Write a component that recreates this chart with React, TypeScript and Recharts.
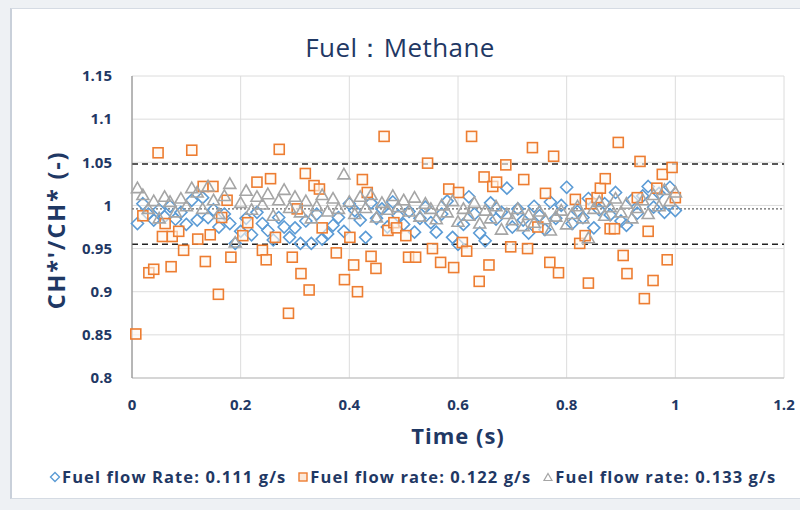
import React from "react";
import {
  ScatterChart,
  Scatter,
  XAxis,
  YAxis,
  CartesianGrid,
  ReferenceLine,
  Legend,
} from "recharts";

const TITLE = "Fuel：Methane";
const X_LABEL = "Time (s)";
const Y_LABEL = "CH*'/CH* (-)";
const X_TICKS = [0, 0.2, 0.4, 0.6, 0.8, 1, 1.2];
const Y_TICKS = [0.8, 0.85, 0.9, 0.95, 1, 1.05, 1.1, 1.15];
const SERIES_NAMES = [
  "Fuel flow Rate: 0.111 g/s",
  "Fuel flow rate: 0.122 g/s",
  "Fuel flow rate: 0.133 g/s",
];
const DASHED_LIMITS = [1.048, 0.955];
const MEAN_LINE = 0.996;

const timeBlue = [
  0.01, 0.02, 0.03, 0.04, 0.05, 0.06, 0.07, 0.08, 0.09, 0.1, 0.11, 0.12, 0.13, 0.14, 0.15, 0.16, 0.17, 0.18, 0.19, 0.2,
  0.21, 0.22, 0.23, 0.24, 0.25, 0.26, 0.27, 0.28, 0.29, 0.3, 0.31, 0.32, 0.33, 0.34, 0.35, 0.36, 0.37, 0.38, 0.39, 0.4,
  0.41, 0.42, 0.43, 0.44, 0.45, 0.46, 0.47, 0.48, 0.49, 0.5, 0.51, 0.52, 0.53, 0.54, 0.55, 0.56, 0.57, 0.58, 0.59, 0.6,
  0.61, 0.62, 0.63, 0.64, 0.65, 0.66, 0.67, 0.68, 0.69, 0.7, 0.71, 0.72, 0.73, 0.74, 0.75, 0.76, 0.77, 0.78, 0.79, 0.8,
  0.81, 0.82, 0.83, 0.84, 0.85, 0.86, 0.87, 0.88, 0.89, 0.9, 0.91, 0.92, 0.93, 0.94, 0.95, 0.96, 0.97, 0.98, 0.99, 1.0,
];
const ratioBlue = [
  0.979, 1.002, 0.99, 0.983, 0.995, 0.987, 0.999, 0.984, 0.992, 0.978, 1.006, 0.983, 1.009, 0.986, 0.995, 0.975, 0.99, 0.979, 0.956, 0.97,
  0.985, 0.966, 0.992, 0.979, 0.971, 0.96, 0.986, 0.975, 0.963, 0.974, 0.956, 0.982, 0.956, 0.99, 0.961, 0.967, 0.977, 0.986, 0.97, 1.002,
  0.994, 0.983, 0.963, 1.003, 0.985, 0.996, 0.975, 1.004, 0.988, 0.978, 0.993, 0.969, 0.985, 0.998, 0.98, 0.969, 0.99, 1.005, 0.963, 0.955,
  0.978, 1.01, 0.99, 0.968, 0.959, 1.003, 0.984, 0.992, 1.02, 0.975, 0.996, 0.983, 0.968, 0.999, 0.988, 0.972, 1.004, 0.985, 1.0, 1.021,
  0.979, 0.993, 0.986, 1.008, 0.974, 0.995, 1.002, 0.989, 1.015, 0.982, 0.977, 1.006, 0.991, 1.011, 1.022, 0.998, 1.014, 0.992, 1.021, 0.994,
];

const timeOrange = [
  0.007, 0.02, 0.031, 0.04, 0.048, 0.056, 0.061, 0.072, 0.074, 0.086, 0.095, 0.11, 0.121, 0.131, 0.135, 0.144, 0.149, 0.159, 0.165, 0.175,
  0.182, 0.204, 0.213, 0.23, 0.24, 0.247, 0.255, 0.264, 0.271, 0.288, 0.295, 0.304, 0.311, 0.319, 0.326, 0.335, 0.345, 0.35, 0.376, 0.391,
  0.401, 0.408, 0.415, 0.424, 0.433, 0.44, 0.449, 0.464, 0.471, 0.482, 0.487, 0.504, 0.509, 0.522, 0.544, 0.553, 0.568, 0.583, 0.592, 0.601,
  0.608, 0.616, 0.625, 0.639, 0.648, 0.657, 0.664, 0.671, 0.688, 0.697, 0.721, 0.728, 0.737, 0.747, 0.761, 0.769, 0.776, 0.785, 0.816, 0.824,
  0.834, 0.84, 0.845, 0.856, 0.862, 0.871, 0.88, 0.888, 0.895, 0.904, 0.911, 0.93, 0.935, 0.943, 0.95, 0.959, 0.966, 0.976, 0.985, 0.994, 1.0,
];
const ratioOrange = [
  0.851, 0.988, 0.922, 0.926, 1.061, 0.964, 0.979, 0.929, 0.964, 0.97, 0.948, 1.064, 0.961, 1.022, 0.935, 0.966, 1.022, 0.897, 0.986, 1.006,
  0.94, 0.965, 0.98, 1.027, 0.948, 0.937, 1.031, 0.963, 1.065, 0.875, 0.94, 0.996, 0.921, 1.037, 0.902, 1.023, 1.019, 0.974, 0.945, 0.914,
  0.963, 0.931, 0.9, 1.03, 1.015, 0.941, 0.927, 1.08, 0.971, 0.98, 0.974, 0.965, 0.94, 0.94, 1.049, 0.95, 0.934, 1.019, 0.928, 1.015,
  0.957, 0.947, 1.08, 0.912, 1.033, 0.931, 1.022, 1.027, 1.047, 0.952, 1.03, 0.95, 1.067, 0.975, 1.014, 0.934, 1.057, 0.922, 1.007, 0.956,
  0.965, 0.91, 1.002, 1.009, 1.02, 1.031, 0.973, 0.973, 1.073, 0.942, 0.921, 1.009, 1.051, 0.892, 0.97, 0.913, 1.02, 1.036, 0.937, 1.044, 1.009,
];

const timeGray = timeBlue;
const ratioGray = [
  1.02, 1.012, 0.996, 1.005, 0.985, 1.01, 1.004, 0.992, 1.008, 0.999, 1.02, 1.015, 0.996, 1.022, 1.006, 0.99, 1.011, 1.025, 0.957, 1.003,
  1.017, 0.995, 1.01, 1.001, 1.013, 0.988, 1.006, 1.018, 0.997, 1.01, 0.992, 1.005, 0.985, 0.999, 1.012, 0.993, 1.008, 0.996, 1.036, 1.004,
  0.99, 1.01, 0.997, 1.012, 0.986, 1.003, 0.995, 1.011, 0.998, 1.006, 0.993, 1.009, 0.987, 1.002, 0.996, 0.984, 1.0, 0.992, 1.005, 0.981,
  0.996, 0.988, 1.003, 0.979, 0.994, 0.985, 0.999, 0.972, 0.99, 0.983, 0.996, 0.976, 0.989, 0.98, 0.993, 0.984, 0.971, 0.987, 0.994, 0.978,
  0.99, 0.999, 0.985, 0.962, 0.996, 1.004, 0.988, 0.998, 1.008, 0.992, 1.002, 0.985, 0.997, 1.006, 0.99, 1.012, 0.999, 1.018, 1.005, 1.015,
];

const toPoints = (xs: number[], ys: number[]) => xs.map((x, i) => ({ x, y: ys[i] }));
const blueData = toPoints(timeBlue, ratioBlue);
const orangeData = toPoints(timeOrange, ratioOrange);
const grayData = toPoints(timeGray, ratioGray);

const BLUE = "#5B9BD5";
const ORANGE = "#ED7D31";
const GRAY = "#A5A5A5";
const NAVY = "#1F3864";
const FONT = "'Open Sans', Lato, sans-serif";

const Diamond = (props: any) => {
  const { cx, cy } = props;
  if (cx == null || cy == null) return null;
  const r = 6;
  return (
    <path
      d={`M${cx},${cy - r}L${cx + r},${cy}L${cx},${cy + r}L${cx - r},${cy}Z`}
      fill="none"
      stroke={BLUE}
      strokeWidth={1.6}
    />
  );
};
const Square = (props: any) => {
  const { cx, cy } = props;
  if (cx == null || cy == null) return null;
  const h = 5;
  return (
    <rect x={cx - h} y={cy - h} width={2 * h} height={2 * h} fill="#fff6ee" fillOpacity={0.6} stroke={ORANGE} strokeWidth={1.6} />
  );
};
const Triangle = (props: any) => {
  const { cx, cy } = props;
  if (cx == null || cy == null) return null;
  const r = 6;
  return (
    <path
      d={`M${cx},${cy - r}L${cx + r},${cy + r * 0.75}L${cx - r},${cy + r * 0.75}Z`}
      fill="none"
      stroke={GRAY}
      strokeWidth={1.6}
    />
  );
};

const legendIcon = (i: number) => {
  if (i === 0)
    return (
      <svg width={12} height={12}>
        <path d="M6,1.5L10.5,6L6,10.5L1.5,6Z" fill="none" stroke={BLUE} strokeWidth={1.4} />
      </svg>
    );
  if (i === 1)
    return (
      <svg width={12} height={12}>
        <rect x={2} y={2} width={8} height={8} fill="#fde9d9" stroke={ORANGE} strokeWidth={1.4} />
      </svg>
    );
  return (
    <svg width={12} height={12}>
      <path d="M6,2.5L10,9.5L2,9.5Z" fill="none" stroke={GRAY} strokeWidth={1.2} />
    </svg>
  );
};

const LegendContent = () => (
  <div style={{ display: "flex", alignItems: "center", fontFamily: FONT, fontWeight: 700, fontSize: 16.5, letterSpacing: 1.1, color: NAVY, whiteSpace: "nowrap" }}>
    {SERIES_NAMES.map((n, i) => (
      <div key={n} style={{ display: "flex", alignItems: "center", marginRight: i < 2 ? 11 : 0 }}>
        {legendIcon(i)}
        <span style={{ marginLeft: 1 }}>{n}</span>
      </div>
    ))}
  </div>
);

const XLabel = (props: any) => {
  const vb = props.viewBox || {};
  return (
    <text
      x={vb.x + vb.width / 2}
      y={vb.y + 66}
      textAnchor="middle"
      fill={NAVY}
      fontSize={22}
      fontWeight={700}
      letterSpacing={1}
      fontFamily={FONT}
    >
      {X_LABEL}
    </text>
  );
};

const YLabel = (props: any) => {
  const vb = props.viewBox || {};
  const cx = vb.x + 65;
  const cy = vb.y + vb.height / 2 + 3;
  return (
    <text
      x={cx}
      y={cy}
      transform={`rotate(-90 ${cx} ${cy})`}
      textAnchor="middle"
      fill={NAVY}
      fontSize={23.5}
      fontWeight={700}
      letterSpacing={1.8}
      fontFamily={FONT}
    >
      {Y_LABEL}
    </text>
  );
};

const fmt = (v: number) => String(Number(v.toFixed(2)));

export default function App() {
  return (
    <div style={{ position: "absolute", left: 0, top: 0, width: 800, height: 510, background: "#eef1f4", overflow: "hidden" }}>
      <div style={{ position: "absolute", left: 10, top: 8, width: 800, height: 489, background: "#fff", borderLeft: "2px solid #c9d0da", borderTop: "1px solid #d5dbe3", borderBottom: "1px solid #d5dbe3" }} />
      <div style={{ position: "absolute", left: 0, top: 0, width: 800, height: 510, fontFamily: FONT }}>
        <div style={{ position: "absolute", left: 0, top: 29, width: 800, textAlign: "center", fontSize: 26, letterSpacing: 0.4, color: NAVY, fontFamily: FONT }}>
          {TITLE}
        </div>
        <ScatterChart width={800} height={510} margin={{ top: 76, right: 16, bottom: 0, left: 0 }}>
          <CartesianGrid stroke="#dcdcdc" strokeWidth={1} />
          <XAxis
            type="number"
            dataKey="x"
            domain={[0, 1.2]}
            ticks={X_TICKS}
            tickFormatter={fmt}
            height={132}
            tickLine={false}
            tickSize={0}
            tickMargin={21}
            axisLine={{ stroke: "#bfbfbf" }}
            tick={{ fill: NAVY, fontSize: 15, fontWeight: 700, fontFamily: FONT }}
            label={<XLabel />}
          />
          <YAxis
            type="number"
            dataKey="y"
            domain={[0.8, 1.15]}
            ticks={Y_TICKS}
            tickFormatter={fmt}
            width={132}
            tickLine={false}
            tickSize={0}
            tickMargin={20}
            axisLine={{ stroke: "#808080" }}
            tick={{ fill: NAVY, fontSize: 15, fontWeight: 700, fontFamily: FONT }}
            label={<YLabel />}
          />
          <ReferenceLine y={DASHED_LIMITS[0]} stroke="#222" strokeWidth={1.5} strokeDasharray="6 4" />
          <ReferenceLine y={DASHED_LIMITS[1]} stroke="#222" strokeWidth={1.5} strokeDasharray="6 4" />
          <ReferenceLine y={MEAN_LINE} stroke="#666" strokeWidth={1.2} strokeDasharray="2 2" />
          <Scatter name={SERIES_NAMES[0]} data={blueData} shape={Diamond} isAnimationActive={false} />
          <Scatter name={SERIES_NAMES[1]} data={orangeData} shape={Square} isAnimationActive={false} />
          <Scatter name={SERIES_NAMES[2]} data={grayData} shape={Triangle} isAnimationActive={false} />
          <Legend
            layout="horizontal"
            verticalAlign="middle"
            align="center"
            content={LegendContent}
            wrapperStyle={{ top: 465, left: 49, width: "auto" }}
          />
        </ScatterChart>
      </div>
    </div>
  );
}
